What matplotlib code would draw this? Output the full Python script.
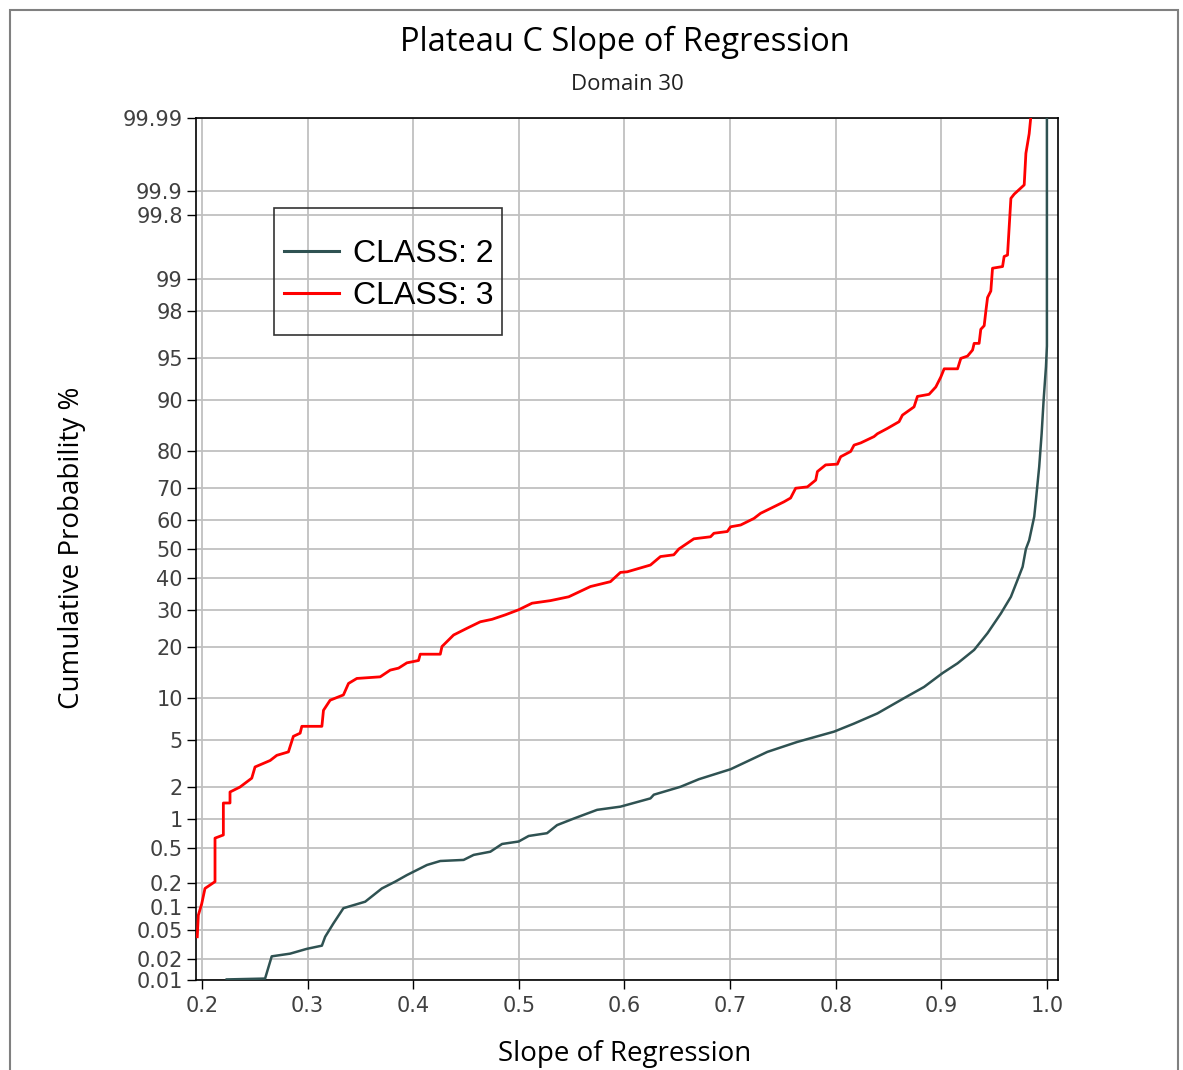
import math
import numpy as np
import matplotlib
matplotlib.use("Agg")
import matplotlib.pyplot as plt
from matplotlib.patches import Rectangle

# ---------------- data ----------------
class2_slope = [0.2234, 0.2597, 0.2660, 0.2834, 0.2992, 0.3135, 0.3166, 0.3245, 0.3339,
                0.3545, 0.3703, 0.3829, 0.3940, 0.4130, 0.4256, 0.4477, 0.4572, 0.4730,
                0.4841, 0.4998, 0.5093, 0.5267, 0.5362, 0.5519, 0.5741, 0.5962, 0.6246,
                0.6278, 0.6531, 0.6705, 0.7005, 0.7353, 0.7637, 0.7984, 0.8174, 0.8395,
                0.8647, 0.8837, 0.9011, 0.9154, 0.9311, 0.9438, 0.9564, 0.9659, 0.9722,
                0.9770, 0.9801, 0.9832, 0.9880, 0.9896, 0.9927, 0.9950, 0.9969, 0.9991,
                1.0000, 1.0000]
class2_pct = [0.0102, 0.0105, 0.022, 0.024, 0.028, 0.031, 0.041, 0.062, 0.097,
              0.117, 0.17, 0.205, 0.245, 0.32, 0.355, 0.365, 0.415, 0.45,
              0.546, 0.58, 0.664, 0.71, 0.86, 1.0, 1.22, 1.31, 1.57,
              1.7, 2.01, 2.35, 2.87, 4.0, 4.8, 5.75, 6.6, 7.8,
              9.9, 11.7, 14.2, 16.2, 19.2, 23.4, 28.9, 34.0, 39.5,
              43.9, 50.0, 53.0, 61.0, 66.4, 76.1, 84.0, 90.1, 94.2,
              96.0, 99.999]

class3_slope = [0.1955, 0.1965, 0.1997, 0.2028, 0.2123, 0.2123, 0.2202, 0.2202, 0.2265,
                0.2265, 0.2360, 0.2471, 0.2502, 0.2645, 0.2708, 0.2818, 0.2865, 0.2929,
                0.2945, 0.3135, 0.3150, 0.3213, 0.3339, 0.3387, 0.3466, 0.3687, 0.3782,
                0.3861, 0.3940, 0.4050, 0.4066, 0.4256, 0.4272, 0.4382, 0.4509, 0.4635,
                0.4746, 0.4872, 0.4998, 0.5125, 0.5299, 0.5472, 0.5678, 0.5867, 0.5962,
                0.6026, 0.6246, 0.6341, 0.6467, 0.6515, 0.6657, 0.6815, 0.6847, 0.6974,
                0.7005, 0.7100, 0.7226, 0.7289, 0.7384, 0.7510, 0.7573, 0.7621, 0.7732,
                0.7811, 0.7827, 0.7905, 0.8016, 0.8047, 0.8142, 0.8174, 0.8237, 0.8363,
                0.8395, 0.8490, 0.8600, 0.8632, 0.8742, 0.8774, 0.8884, 0.8948, 0.8995,
                0.9027, 0.9154, 0.9185, 0.9248, 0.9296, 0.9311, 0.9358, 0.9374, 0.9406,
                0.9422, 0.9438, 0.9469, 0.9485, 0.9580, 0.9595, 0.9627, 0.9643, 0.9659,
                0.9690, 0.9785, 0.9801, 0.9832, 0.9865]
class3_pct = [0.041, 0.079, 0.11, 0.17, 0.205, 0.63, 0.68, 1.42, 1.42,
              1.8, 2.0, 2.4, 3.0, 3.4, 3.75, 4.0, 5.3, 5.6,
              6.3, 6.3, 8.2, 9.6, 10.4, 12.3, 13.2, 13.5, 14.8,
              15.2, 16.3, 16.8, 18.2, 18.2, 20.0, 22.9, 24.7, 26.5,
              27.2, 28.5, 30.0, 32.0, 32.8, 34.0, 37.3, 38.9, 42.0,
              42.2, 44.5, 47.4, 48.0, 50.0, 53.5, 54.2, 55.4, 56.0,
              57.6, 58.2, 60.4, 62.1, 63.7, 65.8, 67.0, 70.0, 70.4,
              72.4, 74.8, 76.6, 76.8, 78.7, 80.0, 81.5, 82.0, 83.4,
              84.0, 85.1, 86.4, 87.6, 89.0, 90.6, 90.9, 91.9, 93.1,
              94.0, 94.0, 95.0, 95.2, 95.7, 96.2, 96.2, 97.1, 97.3,
              98.0, 98.5, 98.7, 99.23, 99.26, 99.42, 99.44, 99.73, 99.876,
              99.89, 99.916, 99.968, 99.983, 99.995]

series_labels = ["CLASS: 2", "CLASS: 3"]
ytick_values = [0.01, 0.02, 0.05, 0.1, 0.2, 0.5, 1, 2, 5, 10, 20, 30, 40, 50, 60,
                70, 80, 90, 95, 98, 99, 99.8, 99.9, 99.99]
ytick_labels = ["0.01", "0.02", "0.05", "0.1", "0.2", "0.5", "1", "2", "5", "10", "20",
                "30", "40", "50", "60", "70", "80", "90", "95", "98", "99", "99.8",
                "99.9", "99.99"]
xtick_values = [0.2, 0.3, 0.4, 0.5, 0.6, 0.7, 0.8, 0.9, 1.0]
xtick_labels = ["0.2", "0.3", "0.4", "0.5", "0.6", "0.7", "0.8", "0.9", "1.0"]

title = "Plateau C Slope of Regression"
subtitle = "Domain 30"
xlabel = "Slope of Regression"
ylabel = "Cumulative Probability %"

# ---------------- probability (probit) scale ----------------
_a = [-3.969683028665376e+01, 2.209460984245205e+02, -2.759285104469687e+02,
      1.383577518672690e+02, -3.066479806614716e+01, 2.506628277459239e+00]
_b = [-5.447609879822406e+01, 1.615858368580409e+02, -1.556989798598866e+02,
      6.680131188771972e+01, -1.328068155288572e+01]
_c = [-7.784894002430293e-03, -3.223964580411365e-01, -2.400758277161838e+00,
      -2.549671348850104e+00, 4.374664141464968e+00, 2.938163982698783e+00]
_d = [7.784695709041462e-03, 3.224671290700398e-01, 2.445134137142996e+00,
      3.754408661907416e+00]


def _ppf(q):
    q = np.clip(np.asarray(q, dtype=float), 1e-12, 1 - 1e-12)
    out = np.full(q.shape, np.nan)
    plow = 0.02425
    with np.errstate(invalid="ignore"):
        lo = q < plow
        hi = q > 1 - plow
        mid = ~(lo | hi) & np.isfinite(q)
    if np.any(lo):
        t = np.sqrt(-2 * np.log(q[lo]))
        out[lo] = ((((( _c[0]*t + _c[1])*t + _c[2])*t + _c[3])*t + _c[4])*t + _c[5]) / \
                  ((((_d[0]*t + _d[1])*t + _d[2])*t + _d[3])*t + 1)
    if np.any(hi):
        t = np.sqrt(-2 * np.log(1 - q[hi]))
        out[hi] = -((((( _c[0]*t + _c[1])*t + _c[2])*t + _c[3])*t + _c[4])*t + _c[5]) / \
                  ((((_d[0]*t + _d[1])*t + _d[2])*t + _d[3])*t + 1)
    if np.any(mid):
        t = q[mid] - 0.5
        r = t * t
        out[mid] = (((((_a[0]*r + _a[1])*r + _a[2])*r + _a[3])*r + _a[4])*r + _a[5]) * t / \
                   (((((_b[0]*r + _b[1])*r + _b[2])*r + _b[3])*r + _b[4])*r + 1)
    return out


_erf = np.vectorize(math.erf, otypes=[float])


def forward(p):
    return _ppf(np.asarray(p, dtype=float) / 100.0)


def inverse(z):
    z = np.asarray(z, dtype=float)
    return 100.0 * 0.5 * (1.0 + _erf(z / math.sqrt(2.0)))


# ---------------- figure ----------------
W, H = 1183, 1070
fig = plt.figure(figsize=(W / 100, H / 100), dpi=100)
fig.patch.set_facecolor("white")

# outer chart border (bottom edge falls outside the picture)
fig.patches.append(Rectangle((10 / W, -0.05), 1168 / W, 1.05 - 10 / H,
                             transform=fig.transFigure, fill=False,
                             edgecolor="#808080", linewidth=1.5))

ax = fig.add_axes([196 / W, 1 - 980 / H, (1058 - 196) / W, (980 - 118) / H])
ax.set_yscale("function", functions=(forward, inverse))

ax.plot(class2_slope, class2_pct, color="#2f5252", linewidth=1.8,
        label=series_labels[0], zorder=3)
ax.plot(class3_slope, class3_pct, color="#ff0000", linewidth=2.0,
        label=series_labels[1], zorder=4)

ax.set_xlim(0.1943, 1.0105)
ax.set_ylim(0.01, 99.99)

ax.set_yticks(ytick_values)
ax.set_yticklabels(ytick_labels)
ax.set_xticks(xtick_values)
ax.set_xticklabels(xtick_labels)
ax.minorticks_off()
ax.yaxis.set_minor_locator(matplotlib.ticker.NullLocator())

ax.grid(True, color="#c0c0c0", linewidth=1.3)
ax.set_axisbelow(True)
ax.tick_params(axis="both", direction="out", length=6.5, width=1.0, color="black",
               labelsize=15, labelcolor="#404040")
ax.tick_params(axis="y", pad=3)
ax.tick_params(axis="x", pad=5)
for lab in ax.get_xticklabels() + ax.get_yticklabels():
    lab.set_family("DejaVu Sans")
for sp in ax.spines.values():
    sp.set_color("black")
    sp.set_linewidth(1.2)

# legend (transparent, square frame)
leg = ax.legend(loc="upper left", bbox_to_anchor=(284 / W, 1 - 239 / H),
                bbox_transform=fig.transFigure, frameon=False,
                prop={"family": "Liberation Sans", "size": 23},
                handlelength=1.72, handletextpad=0.45, borderpad=0.0,
                borderaxespad=0.0, labelspacing=0.39)
for line in leg.get_lines():
    line.set_linewidth(2.2)
ax.add_artist(Rectangle((274 / W, 1 - 335 / H), 228 / W, 127 / H,
                        transform=fig.transFigure, fill=False,
                        edgecolor="#333333", linewidth=1.2, clip_on=False, zorder=6))

# texts
fig.text(625 / W, 1 - 42 / H, title, ha="center", va="center",
         fontsize=23.5, family="Open Sans", color="black")
fig.text(627 / W, 1 - 85 / H, subtitle, ha="center", va="center",
         fontsize=16, family="Open Sans", color="#222222")
fig.text(72 / W, 1 - 548 / H, ylabel, ha="center", va="center", rotation=90,
         fontsize=20, family="Open Sans", color="black")
fig.text(625 / W, 1 - 1068 / H, xlabel, ha="center", va="bottom",
         fontsize=20, family="Open Sans", color="black")

fig.savefig("out.png", dpi=100)
